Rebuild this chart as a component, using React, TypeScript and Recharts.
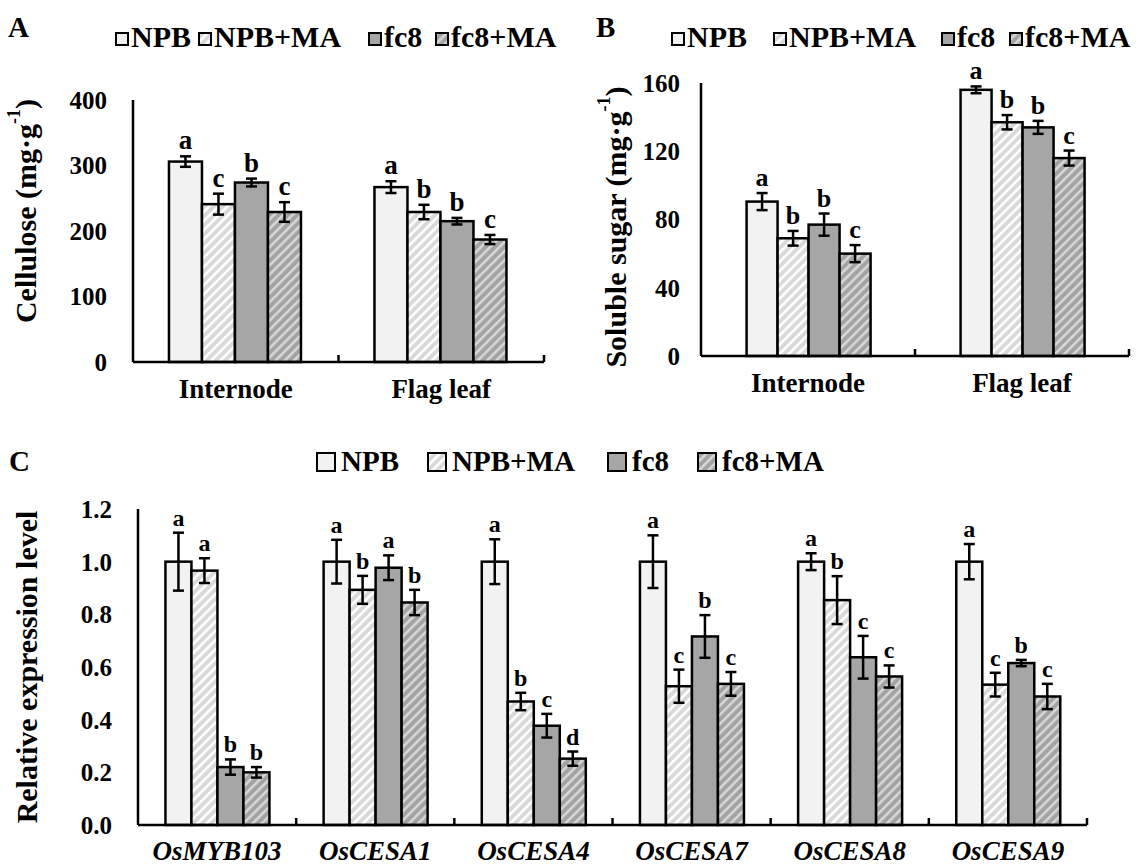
import React from 'react';
import { BarChart, Bar, XAxis, YAxis } from 'recharts';

const SERIF = "'Times New Roman', 'Liberation Serif', Tinos, 'DejaVu Serif', serif";

const groupNames = ['NPB', 'NPB+MA', 'fc8', 'fc8+MA'];
const tissues = ['Internode', 'Flag leaf'];
const genes = ['OsMYB103', 'OsCESA1', 'OsCESA4', 'OsCESA7', 'OsCESA8', 'OsCESA9'];

// A - cellulose (mg/g)
const celluloseNPB = [306, 267];
const celluloseNPBErr = [8, 9];
const celluloseNPBSig = ['a', 'a'];
const celluloseNPBMA = [241, 229];
const celluloseNPBMAErr = [16, 11];
const celluloseNPBMASig = ['c', 'b'];
const celluloseFc8 = [274, 215];
const celluloseFc8Err = [6, 5];
const celluloseFc8Sig = ['b', 'b'];
const celluloseFc8MA = [229, 187];
const celluloseFc8MAErr = [15, 7];
const celluloseFc8MASig = ['c', 'c'];
const celluloseTicks = [0, 100, 200, 300, 400];

// B - soluble sugar (mg/g)
const sugarNPB = [90.5, 156];
const sugarNPBErr = [5, 2];
const sugarNPBSig = ['a', 'a'];
const sugarNPBMA = [69, 137];
const sugarNPBMAErr = [4.3, 4.2];
const sugarNPBMASig = ['b', 'b'];
const sugarFc8 = [77, 134];
const sugarFc8Err = [6.5, 3.8];
const sugarFc8Sig = ['b', 'b'];
const sugarFc8MA = [60, 116];
const sugarFc8MAErr = [5, 4.4];
const sugarFc8MASig = ['c', 'c'];
const sugarTicks = [0, 40, 80, 120, 160];

// C - relative expression
const exprNPB = [1, 1, 1, 1, 1, 1];
const exprNPBErr = [0.11, 0.083, 0.085, 0.1, 0.032, 0.067];
const exprNPBSig = ['a', 'a', 'a', 'a', 'a', 'a'];
const exprNPBMA = [0.966, 0.893, 0.469, 0.527, 0.854, 0.533];
const exprNPBMAErr = [0.047, 0.053, 0.033, 0.063, 0.091, 0.045];
const exprNPBMASig = ['a', 'b', 'b', 'c', 'b', 'c'];
const exprFc8 = [0.22, 0.977, 0.377, 0.716, 0.637, 0.615];
const exprFc8Err = [0.029, 0.047, 0.045, 0.081, 0.081, 0.012];
const exprFc8Sig = ['b', 'a', 'c', 'b', 'c', 'b'];
const exprFc8MA = [0.2, 0.845, 0.252, 0.536, 0.564, 0.488];
const exprFc8MAErr = [0.02, 0.048, 0.027, 0.045, 0.042, 0.048];
const exprFc8MASig = ['b', 'b', 'd', 'c', 'c', 'c'];
const exprTicks = [0, 0.2, 0.4, 0.6, 0.8, 1.0, 1.2];

const fills = ['#f2f2f2', 'url(#hatchLight)', '#a6a6a6', 'url(#hatchDark)'];

type Series = { v: number[]; e: number[]; l: string[] };

function buildRows(names: string[], series: Series[]) {
  return names.map((name, i) => {
    const row: any = { name };
    series.forEach((s, k) => {
      row['v' + k] = s.v[i];
      row['e' + k] = s.e[i];
      row['l' + k] = s.l[i];
    });
    return row;
  });
}

const celluloseRows = buildRows(tissues, [
  { v: celluloseNPB, e: celluloseNPBErr, l: celluloseNPBSig },
  { v: celluloseNPBMA, e: celluloseNPBMAErr, l: celluloseNPBMASig },
  { v: celluloseFc8, e: celluloseFc8Err, l: celluloseFc8Sig },
  { v: celluloseFc8MA, e: celluloseFc8MAErr, l: celluloseFc8MASig },
]);
const sugarRows = buildRows(tissues, [
  { v: sugarNPB, e: sugarNPBErr, l: sugarNPBSig },
  { v: sugarNPBMA, e: sugarNPBMAErr, l: sugarNPBMASig },
  { v: sugarFc8, e: sugarFc8Err, l: sugarFc8Sig },
  { v: sugarFc8MA, e: sugarFc8MAErr, l: sugarFc8MASig },
]);
const exprRows = buildRows(genes, [
  { v: exprNPB, e: exprNPBErr, l: exprNPBSig },
  { v: exprNPBMA, e: exprNPBMAErr, l: exprNPBMASig },
  { v: exprFc8, e: exprFc8Err, l: exprFc8Sig },
  { v: exprFc8MA, e: exprFc8MAErr, l: exprFc8MASig },
]);

const txt = (size: number, extra: React.CSSProperties = {}): React.CSSProperties => ({
  fontFamily: SERIF,
  fontWeight: 700,
  fontSize: size,
  fill: '#000',
  ...extra,
});

// bar + error bar + significance letter, all from the bar geometry recharts computes
const barShape = (k: number, letterSize: number) => (props: any) => {
  const { x, y, width, height, payload } = props;
  const value = payload['v' + k];
  const err = payload['e' + k];
  const perUnit = value ? height / value : 0;
  const cx = x + width / 2;
  const top = y - err * perUnit;
  const bottom = y + err * perUnit;
  return (
    <g>
      <rect x={x} y={y} width={width} height={height} fill={fills[k]} stroke="#000" strokeWidth={2.5} />
      <line x1={cx} x2={cx} y1={top} y2={bottom} stroke="#000" strokeWidth={2.5} />
      <line x1={cx - 5.5} x2={cx + 5.5} y1={top} y2={top} stroke="#000" strokeWidth={2.5} />
      <line x1={cx - 5.5} x2={cx + 5.5} y1={bottom} y2={bottom} stroke="#000" strokeWidth={2.5} />
      <text x={cx} y={top - 7} textAnchor="middle" style={txt(letterSize)}>
        {payload['l' + k]}
      </text>
    </g>
  );
};

const categoryTick = (band: number, size: number, offset: number, italic: boolean) => (props: any) => {
  const { x, y, payload } = props;
  return (
    <g>
      <line x1={x + band / 2} x2={x + band / 2} y1={y} y2={y - 7} stroke="#000" strokeWidth={2.5} />
      <text x={x} y={y + offset} textAnchor="middle" style={txt(size, { fontStyle: italic ? 'italic' : 'normal' })}>
        {payload.value}
      </text>
    </g>
  );
};

const yTickStyle = txt(25);
const axisLine = { stroke: '#000', strokeWidth: 2.5 };

function Panel(props: {
  rows: any[];
  width: number;
  height: number;
  margin: { top: number; right: number; bottom: number; left: number };
  domain: [number, number];
  ticks: number[];
  tickGap: number;
  gap: string;
  catSize: number;
  catOffset: number;
  italic?: boolean;
  letterSize: number;
  fmt?: (v: number) => string;
}) {
  const { rows, width, height, margin, domain, ticks, tickGap, gap, catSize, catOffset, italic, letterSize, fmt } = props;
  const band = (width - margin.left - margin.right - 60) / rows.length;
  return (
    <BarChart width={width} height={height} data={rows} margin={margin} barGap={0} barCategoryGap={gap}>
      <XAxis
        dataKey="name"
        interval={0}
        height={40}
        axisLine={axisLine}
        tickLine={false}
        tickSize={0}
        tickMargin={0}
        tick={categoryTick(band, catSize, catOffset, !!italic)}
      />
      <YAxis
        width={60}
        domain={domain}
        ticks={ticks}
        axisLine={axisLine}
        tickLine={false}
        tickSize={0}
        tickMargin={tickGap}
        tick={yTickStyle}
        tickFormatter={fmt}
      />
      {groupNames.map((n, k) => (
        <Bar key={n} dataKey={'v' + k} name={n} shape={barShape(k, letterSize)} isAnimationActive={false} />
      ))}
    </BarChart>
  );
}

function AxisTitle({ cx, cy, main, sup, tail }: { cx: number; cy: number; main: string; sup?: string; tail?: string }) {
  return (
    <text
      transform={`translate(${cx},${cy}) rotate(-90)`}
      textAnchor="middle"
      dominantBaseline="central"
      style={txt(30)}
    >
      {main}
      {sup && (
        <tspan dy={-11} style={{ fontSize: 18 }}>
          {sup}
        </tspan>
      )}
      {tail && <tspan dy={11}>{tail}</tspan>}
    </text>
  );
}

function LegendRow({ xs, top, box, base, size, gap }: { xs: number[]; top: number; box: number; base: number; size: number; gap: number }) {
  return (
    <g>
      {groupNames.map((n, k) => (
        <g key={n}>
          <rect x={xs[k]} y={top} width={box} height={box} fill={fills[k]} stroke="#000" strokeWidth={2} />
          <text x={xs[k] + box + gap} y={base} style={txt(size)}>
            {n}
          </text>
        </g>
      ))}
    </g>
  );
}

export default function App() {
  return (
    <div style={{ position: 'absolute', left: 0, top: 0, width: 1144, height: 865, background: '#fff' }}>
      <svg width={0} height={0} style={{ position: 'absolute' }}>
        <defs>
          <pattern id="hatchLight" patternUnits="userSpaceOnUse" width={6.5} height={6.5} patternTransform="rotate(45)">
            <rect width={6.5} height={6.5} fill="#d9d9d9" />
            <rect width={2.6} height={6.5} fill="#ffffff" />
          </pattern>
          <pattern id="hatchDark" patternUnits="userSpaceOnUse" width={6.5} height={6.5} patternTransform="rotate(45)">
            <rect width={6.5} height={6.5} fill="#a3a3a3" />
            <rect width={2.6} height={6.5} fill="#d6d6d6" />
          </pattern>
        </defs>
      </svg>

      <div style={{ position: 'absolute', left: 0, top: 0 }}>
        <Panel
          rows={celluloseRows}
          width={560}
          height={420}
          margin={{ top: 100, right: 16, bottom: 18, left: 73 }}
          domain={[0, 400]}
          ticks={celluloseTicks}
          tickGap={26}
          gap="17.5%"
          catSize={27}
          catOffset={36}
          letterSize={27}
        />
      </div>

      <div style={{ position: 'absolute', left: 580, top: 0 }}>
        <Panel
          rows={sugarRows}
          width={564}
          height={420}
          margin={{ top: 83, right: 15, bottom: 24, left: 61 }}
          domain={[0, 160]}
          ticks={sugarTicks}
          tickGap={21}
          gap="21.3%"
          catSize={27}
          catOffset={36}
          letterSize={26}
        />
      </div>

      <div style={{ position: 'absolute', left: 0, top: 440 }}>
        <Panel
          rows={exprRows}
          width={1144}
          height={425}
          margin={{ top: 69, right: 57, bottom: 0, left: 78 }}
          domain={[0, 1.2]}
          ticks={exprTicks}
          tickGap={26}
          gap="17.35%"
          catSize={27}
          catOffset={35}
          italic
          letterSize={24}
          fmt={(v: number) => v.toFixed(1)}
        />
      </div>

      <svg width={1144} height={865} style={{ position: 'absolute', left: 0, top: 0, pointerEvents: 'none' }}>
        <text x={8} y={37} style={txt(29)}>A</text>
        <text x={596} y={37} style={txt(29)}>B</text>
        <text x={9} y={471} style={txt(29)}>C</text>
        <AxisTitle cx={25} cy={211} main="Cellulose (mg·g" sup="-1" tail=")" />
        <AxisTitle cx={615} cy={227} main="Soluble sugar (mg·g" sup="-1" tail=")" />
        <AxisTitle cx={26} cy={667} main="Relative expression level" />
        <LegendRow xs={[116, 199, 369, 436]} top={33} box={12} base={47} size={30} gap={3} />
        <LegendRow xs={[672, 774, 942, 1010]} top={33} box={12} base={47} size={30} gap={3} />
        <LegendRow xs={[317, 428, 608, 698]} top={453} box={18} base={471} size={29} gap={6} />
      </svg>
    </div>
  );
}
